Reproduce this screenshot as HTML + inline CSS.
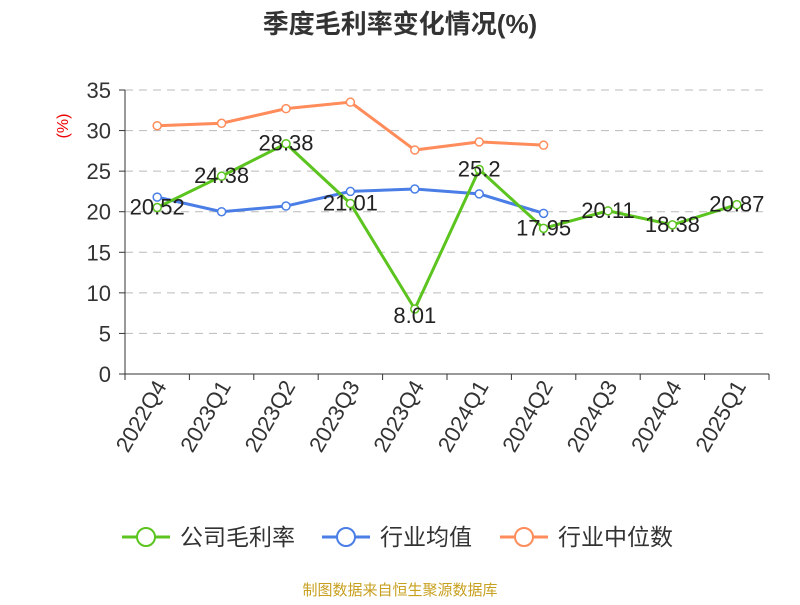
<!DOCTYPE html>
<html><head><meta charset="utf-8"><style>
body{margin:0;background:#fff;font-family:"Liberation Sans","Noto Sans CJK SC",sans-serif;}
</style></head><body>
<svg id="chart" width="800" height="600" xmlns="http://www.w3.org/2000/svg" font-family="Liberation Sans, Noto Sans CJK SC, sans-serif">
<text x="400" y="33" text-anchor="middle" font-size="26" font-weight="bold" fill="#333">季度毛利率变化情况(%)</text>
<text transform="translate(68,126) rotate(-90)" text-anchor="middle" font-size="16" fill="#e00">(%)</text>
<g id="grid"></g><g id="axes"></g><g id="series"></g><g id="labels"></g>
<g>
<g><line x1="122" y1="537" x2="170" y2="537" stroke="#5cc41e" stroke-width="3"/><circle cx="146" cy="537" r="9" fill="#fff" stroke="#5cc41e" stroke-width="2"/><text x="180" y="545" font-size="23" fill="#333">公司毛利率</text></g>
<g><line x1="322" y1="537" x2="370" y2="537" stroke="#4a7ee6" stroke-width="3"/><circle cx="346" cy="537" r="9" fill="#fff" stroke="#4a7ee6" stroke-width="2"/><text x="380" y="545" font-size="23" fill="#333">行业均值</text></g>
<g><line x1="500" y1="537" x2="548" y2="537" stroke="#ff8c5a" stroke-width="3"/><circle cx="524" cy="537" r="9" fill="#fff" stroke="#ff8c5a" stroke-width="2"/><text x="558" y="545" font-size="23" fill="#333">行业中位数</text></g>
</g>
<text x="400" y="595" text-anchor="middle" font-size="15" fill="#c8a020">制图数据来自恒生聚源数据库</text>
</svg>
<script>
const categories=["2022Q4","2023Q1","2023Q2","2023Q3","2023Q4","2024Q1","2024Q2","2024Q3","2024Q4","2025Q1"];
const companyValues=[20.52,24.38,28.38,21.01,8.01,25.2,17.95,20.11,18.38,20.87];
const industryAvg=[21.8,20.0,20.7,22.5,22.8,22.2,19.8];
const industryMedian=[30.6,30.9,32.7,33.5,27.6,28.6,28.2];
const yTicks=[0,5,10,15,20,25,30,35];
const NS="http://www.w3.org/2000/svg";
const L=125,R=769,T=90,B=374;
const bw=(R-L)/categories.length;
const x=i=>L+bw*(i+0.5);
const y=v=>B-(v/35)*(B-T);
function mk(tag,attrs,parent){const e=document.createElementNS(NS,tag);for(const k in attrs)e.setAttribute(k,attrs[k]);document.getElementById(parent).appendChild(e);return e;}
yTicks.forEach(t=>{
 if(t>0){const g=mk('line',{x1:L,x2:R,y1:y(t),y2:y(t),stroke:'#bbb','stroke-dasharray':'8,6'},'grid');
 
 }
 const tk=mk('line',{x1:L-6,x2:L,y1:y(t),y2:y(t),stroke:'#333'},'axes');
 
 
 const tx=mk('text',{x:L-14,y:y(t)+8,'text-anchor':'end','font-size':22,fill:'#333'},'axes');tx.textContent=t;
 
 
});
const ya=mk('line',{x1:L,x2:L,y1:T,y2:B,stroke:'#333'},'axes');


const xa=mk('line',{x1:L,x2:R,y1:B,y2:B,stroke:'#333'},'axes');


for(let i=0;i<=categories.length;i++){const tk=mk('line',{x1:L+bw*i,x2:L+bw*i,y1:B,y2:B+6,stroke:'#333'},'axes');
 
 }
categories.forEach((c,i)=>{const t=mk('text',{transform:`translate(${x(i)+10},${B+12}) rotate(-60)`,'text-anchor':'end','font-size':22,fill:'#333'},'axes');t.textContent=c;
 
 });
function series(vals,color,name){
 const p=mk('polyline',{points:vals.map((v,i)=>x(i)+','+y(v)).join(' '),fill:'none',stroke:color,'stroke-width':3},'series');
 
 
 vals.forEach((v,i)=>{const c=mk('circle',{cx:x(i),cy:y(v),r:4,fill:'#fff',stroke:color,'stroke-width':1.5},'series');
  
  });
}
series(industryMedian,'#ff8c5a','industry-median');
series(industryAvg,'#4a7ee6','industry-avg');
series(companyValues,'#5cc41e','company');
companyValues.forEach((v,i)=>{const t=mk('text',{x:x(i),y:y(v)+(i==4?14:7),'text-anchor':'middle','font-size':22,fill:'#222'},'labels');t.textContent=v;
 
 });
</script>
</body></html>
